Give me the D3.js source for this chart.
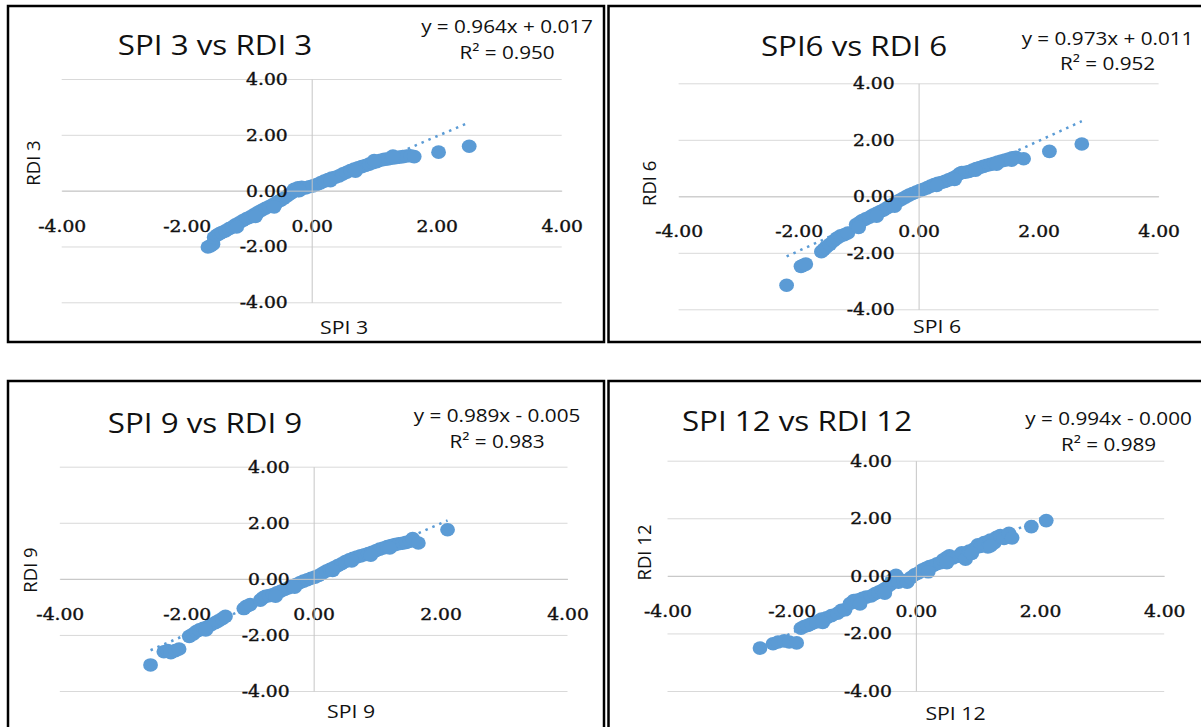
<!DOCTYPE html>
<html>
<head>
<meta charset="utf-8">
<script src="https://cdn.jsdelivr.net/npm/d3@7"></script>
<style>
  body { margin: 0; background: #fff; }
</style>
</head>
<body>
<svg id="chart" width="1201" height="727"></svg>
<script>
// SPI vs RDI scatter, four panels (3, 6, 9, 12 months)

const spi3rdi3 = [
  [-1.66,-2.02],[-1.62,-1.98],[-1.58,-1.92],[-1.56,-1.68],[-1.52,-1.6],[-1.48,-1.55],[-1.44,-1.5],
  [-1.38,-1.44],[-1.32,-1.36],[-1.27,-1.3],[-1.22,-1.22],[-1.16,-1.15],[-1.1,-1.07],[-1.04,-1.0],
  [-0.98,-0.94],[-0.92,-0.86],[-0.86,-0.78],[-0.8,-0.7],[-0.74,-0.63],[-0.68,-0.57],[-0.62,-0.5],
  [-0.56,-0.42],[-0.5,-0.35],[-0.45,-0.28],[-0.4,-0.2],[-0.35,-0.12],[-0.3,-0.05],[-0.28,0.05],
  [-0.22,0.1],[-0.16,0.12],[-0.1,0.1],[-0.04,0.14],[0.02,0.17],[0.08,0.22],[0.14,0.28],[0.2,0.34],
  [0.26,0.4],[0.32,0.45],[0.38,0.48],[0.44,0.53],[0.5,0.6],[0.56,0.66],[0.62,0.72],[0.68,0.77],
  [0.74,0.82],[0.8,0.86],[0.86,0.9],[0.92,0.95],[0.98,1.0],[1.04,1.04],[1.1,1.09],[1.16,1.12],
  [1.22,1.14],[1.28,1.16],[1.34,1.18],[1.4,1.2],[1.46,1.22],[1.52,1.24],[1.58,1.25],[1.64,1.22],
  [-1.2,-1.3],[-0.9,-0.92],[-0.6,-0.58],[-0.2,0.0],[0.3,0.36],[0.7,0.7],[1.0,1.08],[1.3,1.24],
  [2.03,1.38],[2.52,1.59]
];

const spi6rdi6 = [
  [-2.2,-3.15],[-1.96,-2.48],[-1.92,-2.44],[-1.88,-2.4],[-1.62,-1.96],[-1.58,-1.88],[-1.54,-1.8],
  [-1.48,-1.7],[-1.42,-1.58],[-1.36,-1.48],[-1.3,-1.4],[-1.24,-1.36],[-1.18,-1.3],[-1.04,-1.0],
  [-0.98,-0.92],[-0.94,-0.86],[-0.88,-0.8],[-0.82,-0.74],[-0.76,-0.66],[-0.7,-0.6],[-0.64,-0.54],
  [-0.58,-0.48],[-0.52,-0.4],[-0.46,-0.32],[-0.4,-0.25],[-0.34,-0.17],[-0.28,-0.1],[-0.22,-0.03],
  [-0.16,0.04],[-0.1,0.1],[-0.04,0.15],[0.02,0.2],[0.08,0.25],[0.14,0.3],[0.2,0.36],[0.26,0.42],
  [0.32,0.46],[0.38,0.49],[0.44,0.53],[0.5,0.58],[0.56,0.64],[0.62,0.7],[0.68,0.8],[0.72,0.84],
  [0.78,0.85],[0.84,0.88],[0.9,0.93],[0.96,0.98],[1.02,1.02],[1.08,1.06],[1.14,1.1],[1.2,1.13],
  [1.26,1.17],[1.32,1.21],[1.38,1.25],[1.44,1.28],[1.5,1.32],[1.56,1.36],[1.62,1.38],[1.75,1.33],
  [-1.0,-1.1],[-0.7,-0.7],[-0.4,-0.35],[0.3,0.38],[0.6,0.6],[0.95,0.92],[1.3,1.14],[1.55,1.28],
  [2.18,1.59],[2.72,1.85]
];

const spi9rdi9 = [
  [-2.57,-3.07],[-2.36,-2.6],[-2.3,-2.56],[-2.25,-2.63],[-2.18,-2.56],[-2.12,-2.5],[-1.96,-2.05],
  [-1.9,-1.97],[-1.85,-1.88],[-1.8,-1.82],[-1.74,-1.76],[-1.68,-1.72],[-1.62,-1.64],[-1.55,-1.56],
  [-1.5,-1.5],[-1.44,-1.42],[-1.39,-1.34],[-1.1,-1.06],[-1.06,-0.98],[-1.0,-0.92],[-0.84,-0.76],
  [-0.8,-0.68],[-0.76,-0.62],[-0.7,-0.6],[-0.64,-0.56],[-0.58,-0.5],[-0.52,-0.44],[-0.46,-0.38],
  [-0.4,-0.32],[-0.34,-0.26],[-0.28,-0.2],[-0.22,-0.14],[-0.16,-0.08],[-0.1,-0.03],[-0.04,0.02],
  [0.02,0.06],[0.08,0.12],[0.14,0.2],[0.2,0.28],[0.26,0.34],[0.32,0.4],[0.38,0.47],[0.44,0.54],
  [0.5,0.62],[0.56,0.68],[0.62,0.73],[0.68,0.78],[0.74,0.82],[0.8,0.86],[0.86,0.9],[0.92,0.95],
  [0.98,1.0],[1.04,1.06],[1.1,1.1],[1.16,1.15],[1.22,1.19],[1.28,1.22],[1.34,1.25],[1.4,1.27],
  [1.46,1.3],[1.52,1.34],[1.56,1.44],[1.65,1.28],
  [-1.7,-1.82],[-0.6,-0.62],[-0.3,-0.3],[0.3,0.3],[0.6,0.64],[0.9,0.84],[1.2,1.1],
  [2.11,1.75]
];

const spi12rdi12 = [
  [-2.51,-2.51],[-2.3,-2.36],[-2.22,-2.3],[-2.12,-2.26],[-2.04,-2.3],[-1.92,-2.33],[-1.85,-1.82],
  [-1.8,-1.76],[-1.74,-1.72],[-1.68,-1.66],[-1.6,-1.6],[-1.52,-1.5],[-1.44,-1.46],[-1.36,-1.38],
  [-1.26,-1.3],[-1.2,-1.2],[-1.14,-1.18],[-1.06,-0.96],[-1.0,-0.86],[-0.94,-0.84],[-0.86,-0.78],
  [-0.8,-0.74],[-0.72,-0.7],[-0.66,-0.62],[-0.6,-0.56],[-0.54,-0.5],[-0.48,-0.42],[-0.42,-0.32],
  [-0.38,-0.14],[-0.32,0.02],[-0.28,-0.22],[-0.2,-0.16],[-0.14,-0.22],[-0.08,-0.06],[-0.02,0.04],
  [0.04,0.1],[0.1,0.2],[0.16,0.26],[0.22,0.32],[0.28,0.36],[0.34,0.42],[0.4,0.46],[0.44,0.56],
  [0.5,0.64],[0.54,0.7],[0.6,0.62],[0.68,0.68],[0.74,0.8],[0.8,0.58],[0.86,0.86],[0.94,0.94],
  [1.0,1.08],[1.04,1.02],[1.1,1.16],[1.16,1.0],[1.2,1.24],[1.26,1.14],[1.3,1.34],[1.36,1.4],
  [1.42,1.3],[1.5,1.48],[1.55,1.32],
  [-1.5,-1.62],[-0.9,-0.98],[-0.5,-0.6],[0.2,0.14],[0.5,0.46],[0.9,0.78],[1.2,1.04],
  [1.86,1.71],[2.1,1.92]
];

const titles = ['SPI 3 vs RDI 3', 'SPI6 vs RDI 6', 'SPI 9 vs RDI 9', 'SPI 12 vs RDI 12'];
const xTitles = ['SPI 3', 'SPI 6', 'SPI 9', 'SPI 12'];
const yTitles = ['RDI 3', 'RDI 6', 'RDI 9', 'RDI 12'];
const slopes = [0.964, 0.973, 0.989, 0.994];
const intercepts = [0.017, 0.011, -0.005, -0.000];
const eqLabels = ['y = 0.964x + 0.017', 'y = 0.973x + 0.011', 'y = 0.989x - 0.005', 'y = 0.994x - 0.000'];
const r2Labels = ['R² = 0.950', 'R² = 0.952', 'R² = 0.983', 'R² = 0.989'];
const tickValues = [-4, -2, 0, 2, 4];
const series = [spi3rdi3, spi6rdi6, spi9rdi9, spi12rdi12];

// layout of each panel (pixels)
const layout = [
  { box: [8, 6, 596, 336], x0: 61.7, x1: 561.7, y0: 79, y1: 302.3,
    title: [215, 45], eq: [507, 27, 53], xt: [344, 327], yt: [33, 163] },
  { box: [608.5, 6, 600, 336], x0: 678.6, x1: 1158.6, y0: 83.3, y1: 309.3,
    title: [854, 46.7], eq: [1107.5, 38.3, 63.3], xt: [937, 326.7], yt: [649, 183.3] },
  { box: [8, 381, 596, 360], x0: 59.8, x1: 567.5, y0: 466.7, y1: 691,
    title: [205, 423.3], eq: [497, 415.7, 441.7], xt: [351, 711.7], yt: [30, 570] },
  { box: [608.5, 381, 600, 360], x0: 667.5, x1: 1164.2, y0: 460.7, y1: 691,
    title: [797, 421.7], eq: [1108.5, 418.3, 445], xt: [955.5, 713.3], yt: [644, 552.5] }
];

const SANS = "'Open Sans', 'Noto Sans', sans-serif";
const SERIF = "'DejaVu Serif', serif";
const BLUE = '#5b9bd5';
const INK = '#111';
const TICK_K = 1.1;  // the original picture is stretched sideways
const fmt = (d) => d3.format('.2f')(d).replace('−', '-');

const svg = d3.select('#chart');
svg.append('rect').attr('width', 1201).attr('height', 727).attr('fill', '#fff');

function addText(g, x, y, str, size, k, family = SANS) {
  return g.append('text')
    .attr('transform', `translate(${x},${y}) scale(${k},1)`)
    .attr('text-anchor', 'middle')
    .attr('dy', '0.36em')
    .attr('font-family', family)
    .attr('font-size', size)
    .attr('fill', INK)
    .text(str);
}

series.forEach((pts, i) => {
  const L = layout[i];
  const g = svg.append('g');

  const x = d3.scaleLinear().domain([-4, 4]).range([L.x0, L.x1]);
  const y = d3.scaleLinear().domain([-4, 4]).range([L.y1, L.y0]);

  // gridlines
  g.append('g')
    .attr('transform', `translate(${L.x0},0)`)
    .call(d3.axisLeft(y).tickValues(tickValues).tickSize(-(L.x1 - L.x0)).tickFormat(''))
    .call((a) => a.select('.domain').remove())
    .selectAll('line')
    .attr('stroke', '#d9d9d9');

  // trendline
  const [xmin, xmax] = d3.extent(pts, (d) => d[0]);
  g.append('line')
    .attr('x1', x(xmin)).attr('y1', y(slopes[i] * xmin + intercepts[i]))
    .attr('x2', x(xmax)).attr('y2', y(slopes[i] * xmax + intercepts[i]))
    .attr('stroke', BLUE)
    .attr('stroke-width', 2.5)
    .attr('stroke-dasharray', '2.5,5');

  // points
  g.append('g')
    .selectAll('ellipse')
    .data(pts)
    .join('ellipse')
    .attr('cx', (d) => x(d[0]))
    .attr('cy', (d) => y(d[1]))
    .attr('rx', 7.4)
    .attr('ry', 6.8)
    .attr('fill', BLUE);

  // horizontal axis through 0
  const xAxis = g.append('g')
    .attr('transform', `translate(0,${y(0)})`)
    .call(d3.axisBottom(x).tickValues(tickValues).tickSize(0).tickSizeOuter(0).tickPadding(29).tickFormat(fmt));
  xAxis.select('.domain').attr('stroke', '#c6c6c6');

  // vertical axis through 0
  const yAxis = g.append('g')
    .attr('transform', `translate(${x(0)},0)`)
    .call(d3.axisLeft(y).tickValues(tickValues).tickSize(0).tickSizeOuter(0).tickPadding(24).tickFormat(fmt));
  yAxis.select('.domain').attr('stroke', '#c6c6c6');

  [xAxis, yAxis].forEach((a) => {
    a.attr('font-family', SERIF).attr('font-size', 17);
    a.selectAll('text').attr('fill', INK).attr('stroke', INK).attr('stroke-width', 0.4);
  });
  xAxis.selectAll('text').attr('transform', `scale(${TICK_K},1)`);
  yAxis.selectAll('text').attr('transform', `scale(${TICK_K},1)`).attr('x', -24 / TICK_K);

  // texts
  addText(g, L.title[0], L.title[1], titles[i], 27, 1.16);
  addText(g, L.eq[0], L.eq[1], eqLabels[i], 18, 1.15);
  addText(g, L.eq[0], L.eq[2], r2Labels[i], 18, 1.15);
  addText(g, L.xt[0], L.xt[1], xTitles[i], 18.5, 1.15);
  g.append('text')
    .attr('transform', `translate(${L.yt[0]},${L.yt[1]}) rotate(-90)`)
    .attr('text-anchor', 'middle')
    .attr('dy', '0.36em')
    .attr('font-family', SANS)
    .attr('font-size', 18.5)
    .attr('fill', INK)
    .text(yTitles[i]);

  // frame
  g.append('rect')
    .attr('x', L.box[0]).attr('y', L.box[1])
    .attr('width', L.box[2]).attr('height', L.box[3])
    .attr('fill', 'none')
    .attr('stroke', '#000')
    .attr('stroke-width', 2.5);
});
</script>
</body>
</html>
